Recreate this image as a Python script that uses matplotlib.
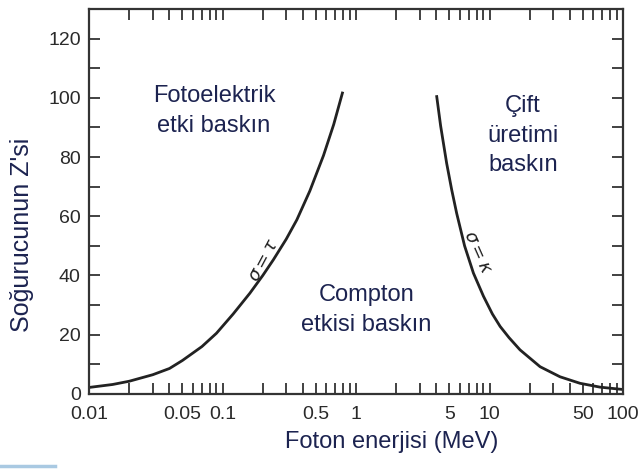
import matplotlib.pyplot as plt
from matplotlib.lines import Line2D
from matplotlib.ticker import FixedLocator, FixedFormatter, LogLocator, NullFormatter
import numpy as np

# sigma = tau border (photoelectric / Compton)
e_tau = [0.01, 0.015, 0.02, 0.03, 0.04, 0.05, 0.07, 0.09, 0.12, 0.16,
         0.2, 0.24, 0.3, 0.36, 0.45, 0.57, 0.68, 0.79]
z_tau = [2.2, 3.2, 4.3, 6.5, 8.6, 11.3, 16.0, 20.5, 27.0, 34.0,
         40.0, 45.3, 52.3, 58.8, 68.5, 80.5, 91.0, 101.6]

# sigma = kappa border (Compton / pair production)
e_kap = [4.02, 4.3, 4.77, 5.2, 5.67, 6.5, 7.57, 9.0, 10.5, 12.0,
         14.0, 16.9, 23.9, 33.7, 47.6, 67.3, 100.0]
z_kap = [100.4, 90.5, 77.9, 69.0, 61.0, 50.0, 40.8, 33.0, 27.0, 22.8,
         19.0, 14.9, 9.2, 5.8, 3.6, 2.3, 1.5]

x_ticks = [0.01, 0.05, 0.1, 0.5, 1, 5, 10, 50, 100]
x_tick_labels = ['0.01', '0.05', '0.1', '0.5', '1', '5', '10', '50', '100']
y_ticks = [0, 20, 40, 60, 80, 100, 120]

text_col = '#1c2350'
sans = ['Liberation Sans', 'DejaVu Sans']

fig = plt.figure(figsize=(6.41, 4.69), dpi=100)
ax = fig.add_axes([0.139, 0.160, 0.833, 0.821])

ax.plot(e_tau, z_tau, color='#222222', lw=2, solid_joinstyle='round')
ax.plot(e_kap, z_kap, color='#222222', lw=2, solid_joinstyle='round')

ax.set_xscale('log')
ax.set_xlim(0.01, 100)
ax.set_ylim(0, 130)

ax.xaxis.set_major_locator(FixedLocator(x_ticks))
ax.xaxis.set_major_formatter(FixedFormatter(x_tick_labels))
ax.xaxis.set_minor_locator(LogLocator(base=10, subs=np.arange(2, 10)))
ax.xaxis.set_minor_formatter(NullFormatter())
ax.yaxis.set_major_locator(FixedLocator(y_ticks))
ax.yaxis.set_minor_locator(FixedLocator(np.arange(10, 131, 20)))

ax.tick_params(which='both', direction='in', top=True, right=True,
               color='#333333', width=1.3, length=8, labelcolor='#2a2a2a')
ax.tick_params(axis='y', labelsize=14, pad=6)
ax.tick_params(axis='x', labelsize=14, pad=9)
for lab in ax.get_xticklabels() + ax.get_yticklabels():
    lab.set_family(sans)

for s in ax.spines.values():
    s.set_linewidth(1.6)
    s.set_color('#333333')

ax.set_xlabel('Foton enerjisi (MeV)', fontsize=17, color=text_col, family=sans)
ax.xaxis.set_label_coords(0.567, -0.125)
ax.xaxis.label.set_va('center')
ax.set_ylabel("Soğurucunun Z'si", fontsize=18, color=text_col, family=sans)
ax.yaxis.set_label_coords(-0.125, 0.413)
ax.yaxis.label.set_va('center')

region_kw = dict(fontsize=17, color=text_col, ha='center', va='center',
                 family=sans, linespacing=1.45)
ax.text(0.0863, 95.6, 'Fotoelektrik\netki baskın', **region_kw)
ax.text(1.19, 28.4, 'Compton\netkisi baskın', **region_kw)
ax.text(17.8, 87.2, 'Çift\nüretimi\nbaskın', **region_kw)

ax.text(0.205, 45.3, r'$\sigma = \tau$', fontsize=13, rotation=62,
        ha='center', va='center', color='#222222')
ax.text(8.2, 48, r'$\sigma = \kappa$', fontsize=13, rotation=-66,
        ha='center', va='center', color='#222222')

# thin light-blue rule at the lower left
fig.add_artist(Line2D([0, 55 / 641], [0.007, 0.007], color='#a9c9e2', lw=2.5))

fig.savefig('out.png', dpi=100)
